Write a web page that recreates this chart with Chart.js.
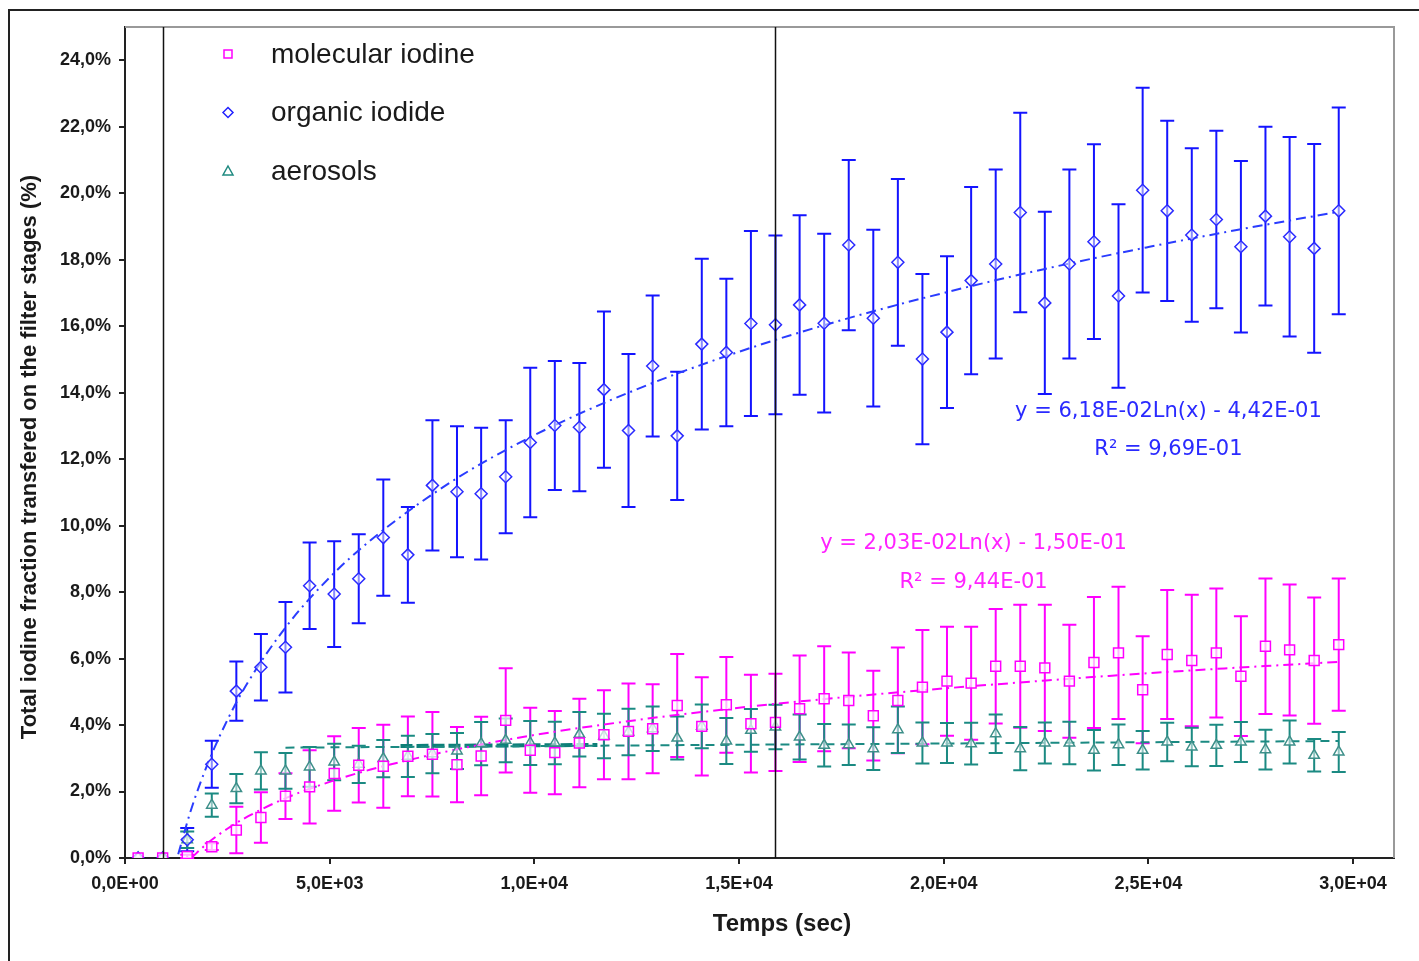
<!DOCTYPE html>
<html>
<head>
<meta charset="utf-8">
<script src="https://cdn.jsdelivr.net/npm/chart.js@4.4.1/dist/chart.umd.min.js"></script>
<style>
  body { margin: 0; background: #fff; }
  #wrap { width: 1419px; height: 961px; position: relative; }
</style>
</head>
<body>
<div id="wrap"><canvas id="iodeChart"></canvas></div>
<script>
// sampling times (s)
const times = [320, 920, 1520, 2120, 2720, 3320, 3920, 4510, 5110, 5710, 6310, 6910, 7510, 8110, 8700, 9300, 9900, 10500, 11100, 11700,
  12300, 12890, 13490, 14090, 14690, 15290, 15890, 16480, 17080, 17680, 18280, 18880, 19480, 20080, 20670, 21270, 21870, 22470, 23070, 23670,
  24270, 24860, 25460, 26060, 26660, 27260, 27860, 28450, 29050, 29650];

// values in %
const molecular = [0, 0, 0.05, 0.34, 0.84, 1.22, 1.86, 2.14, 2.54, 2.79, 2.76, 3.06, 3.12, 2.81, 3.07, 4.14, 3.24, 3.17, 3.46, 3.71,
  3.81, 3.89, 4.59, 3.96, 4.61, 4.04, 4.08, 4.49, 4.79, 4.74, 4.28, 4.74, 5.14, 5.32, 5.26, 5.77, 5.77, 5.72, 5.32, 5.88,
  6.17, 5.06, 6.12, 5.94, 6.17, 5.47, 6.37, 6.26, 5.94, 6.42];
const molecularErr = [0, 0, 0.05, 0.1, 0.70, 0.76, 0.69, 1.10, 1.12, 1.12, 1.25, 1.20, 1.27, 1.13, 1.18, 1.57, 1.28, 1.25, 1.33, 1.34,
  1.44, 1.34, 1.55, 1.48, 1.44, 1.47, 1.46, 1.60, 1.58, 1.44, 1.35, 1.59, 1.72, 1.64, 1.70, 1.72, 1.85, 1.90, 1.70, 1.97,
  1.99, 1.61, 1.94, 1.98, 1.94, 1.80, 2.04, 1.97, 1.90, 1.99];

const organic = [0, 0, 0.55, 2.82, 5.02, 5.74, 6.34, 8.19, 7.94, 8.40, 9.64, 9.12, 11.21, 11.02, 10.96, 11.47, 12.50, 13.01, 12.96, 14.09,
  12.86, 14.80, 12.70, 15.46, 15.21, 16.08, 16.04, 16.64, 16.09, 18.44, 16.24, 17.92, 15.01, 15.82, 17.37, 17.87, 19.42, 16.70, 17.87, 18.54,
  16.91, 20.09, 19.47, 18.74, 19.21, 18.39, 19.31, 18.69, 18.34, 19.47];
const organicErr = [0, 0, 0.35, 0.71, 0.89, 1.00, 1.36, 1.30, 1.59, 1.34, 1.75, 1.44, 1.96, 1.97, 1.98, 1.70, 2.25, 1.94, 1.93, 2.35,
  2.30, 2.12, 1.93, 2.57, 2.22, 2.78, 2.69, 2.70, 2.69, 2.56, 2.66, 2.51, 2.56, 2.28, 2.82, 2.84, 3.00, 2.74, 2.84, 2.93,
  2.76, 3.08, 2.71, 2.61, 2.67, 2.58, 2.69, 3.00, 3.14, 3.11];

const aerosol = [0, 0, 0.55, 1.59, 2.09, 2.62, 2.62, 2.74, 2.89, 2.82, 2.99, 3.06, 3.14, 3.22, 3.44, 3.54, 3.46, 3.46, 3.72, 3.67,
  3.79, 3.89, 3.61, 3.96, 3.52, 3.84, 3.94, 3.64, 3.39, 3.41, 3.29, 3.86, 3.46, 3.46, 3.44, 3.74, 3.29, 3.46, 3.46, 3.24,
  3.41, 3.24, 3.49, 3.34, 3.39, 3.49, 3.26, 3.49, 3.09, 3.19];
const aerosolErr = [0, 0, 0.25, 0.35, 0.44, 0.56, 0.54, 0.60, 0.55, 0.56, 0.56, 0.62, 0.59, 0.54, 0.65, 0.66, 0.66, 0.64, 0.67, 0.67,
  0.70, 0.67, 0.65, 0.66, 0.69, 0.64, 0.67, 0.68, 0.64, 0.61, 0.64, 0.70, 0.62, 0.60, 0.63, 0.58, 0.65, 0.62, 0.64, 0.61,
  0.61, 0.58, 0.58, 0.58, 0.62, 0.60, 0.60, 0.65, 0.49, 0.60];

// trend curves
const organicTrendX = [1300, 1600, 2000, 2500, 3000, 4000, 5000, 6000, 8000, 10000, 12500, 15000, 17500, 20000, 22500, 25000, 27500, 29650];
const organicTrendY = [0.11, 1.40, 2.77, 4.15, 5.28, 7.06, 8.44, 9.56, 11.34, 12.72, 14.10, 15.23, 16.18, 17.00, 17.73, 18.38, 18.97, 19.44];
const molecularTrendX = [1620, 2000, 2500, 3000, 4000, 5000, 6000, 8000, 10000, 12500, 15000, 17500, 20000, 22500, 25000, 27500, 29650];
const molecularTrendY = [0.00, 0.43, 0.88, 1.25, 1.84, 2.29, 2.66, 3.24, 3.70, 4.15, 4.52, 4.83, 5.10, 5.34, 5.56, 5.75, 5.90];
const aerosolTrendX = [3920, 29650];
const aerosolTrendY = [3.32, 3.52];
const aerosolBoldX = [6730, 11540];
const aerosolBoldY = [3.37, 3.40];

const markerLines = [925, 15870];
const xTicks = [0, 5000, 10000, 15000, 20000, 25000, 30000];
const yTicks = [0, 2, 4, 6, 8, 10, 12, 14, 16, 18, 20, 22, 24];

const legendItems = [
  { text: 'molecular iodine', color: '#ff00ff', shape: 'square' },
  { text: 'organic iodide', color: '#2222ff', shape: 'diamond' },
  { text: 'aerosols', color: '#1f8a80', shape: 'triangle' }
];

const BLUE = '#1414ff', PINK = '#ff00ff', TEAL = '#1b8a82';
const SANS = '"Liberation Sans", Arial, sans-serif';

const pts = (xs, ys) => xs.map((x, i) => ({ x: x, y: ys[i] }));

function fmtSci(v) {
  if (v === 0) return '0,0E+00';
  const e = Math.floor(Math.log10(v));
  const m = v / Math.pow(10, e);
  return m.toFixed(1).replace('.', ',') + 'E+' + String(e).padStart(2, '0');
}

const errorBars = {
  id: 'errorBars',
  beforeDatasetsDraw(chart) {
    const ctx = chart.ctx, xs = chart.scales.x, ys = chart.scales.y;
    chart.data.datasets.forEach(ds => {
      if (!ds.err) return;
      ctx.save();
      ctx.strokeStyle = ds.barColor;
      ctx.lineWidth = 2;
      ds.data.forEach((p, i) => {
        const e = ds.err[i];
        if (!e) return;
        const px = xs.getPixelForValue(p.x);
        const top = ys.getPixelForValue(p.y + e), bot = ys.getPixelForValue(p.y - e);
        ctx.beginPath();
        ctx.moveTo(px, top); ctx.lineTo(px, bot);
        ctx.moveTo(px - 7, top); ctx.lineTo(px + 7, top);
        ctx.moveTo(px - 7, bot); ctx.lineTo(px + 7, bot);
        ctx.stroke();
      });
      ctx.restore();
    });
  }
};

const decorations = {
  id: 'decorations',
  beforeDraw(chart) {
    const ctx = chart.ctx;
    ctx.save();
    ctx.fillStyle = '#fff';
    ctx.fillRect(0, 0, chart.width, chart.height);
    ctx.restore();
  },
  afterDraw(chart) {
    const ctx = chart.ctx, a = chart.chartArea, xs = chart.scales.x, ys = chart.scales.y;
    ctx.save();
    // outer frame
    ctx.strokeStyle = '#222';
    ctx.lineWidth = 2;
    ctx.beginPath();
    ctx.moveTo(9, chart.height); ctx.lineTo(9, 10); ctx.lineTo(chart.width, 10);
    ctx.stroke();
    // plot border top / right
    ctx.strokeStyle = '#999';
    ctx.beginPath();
    ctx.moveTo(a.left, a.top); ctx.lineTo(a.right, a.top); ctx.lineTo(a.right, a.bottom);
    ctx.stroke();
    // vertical marker lines
    ctx.strokeStyle = '#111';
    ctx.lineWidth = 1.5;
    markerLines.forEach(v => {
      const px = Math.round(xs.getPixelForValue(v)) + 0.5;
      ctx.beginPath(); ctx.moveTo(px, a.top); ctx.lineTo(px, a.bottom); ctx.stroke();
    });
    // axis titles
    ctx.fillStyle = '#1a1a1a';
    ctx.font = 'bold 24px ' + SANS;
    ctx.textAlign = 'center';
    ctx.textBaseline = 'middle';
    ctx.fillText('Temps (sec)', 782, 924);
    ctx.save();
    ctx.translate(30, 457);
    ctx.rotate(-Math.PI / 2);
    ctx.font = 'bold 22px ' + SANS;
    ctx.fillText('Total iodine fraction transfered on the filter stages (%)', 0, 0);
    ctx.restore();
    // legend
    ctx.textAlign = 'left';
    ctx.font = '28px ' + SANS;
    legendItems.forEach((it, i) => {
      const mx = 228, my = 54 + i * 58.5;
      ctx.strokeStyle = it.color;
      ctx.lineWidth = 1.5;
      ctx.beginPath();
      if (it.shape === 'square') ctx.rect(mx - 4, my - 4, 8, 8);
      else if (it.shape === 'diamond') { ctx.moveTo(mx, my - 5); ctx.lineTo(mx + 5, my); ctx.lineTo(mx, my + 5); ctx.lineTo(mx - 5, my); ctx.closePath(); }
      else { ctx.moveTo(mx, my - 5); ctx.lineTo(mx + 5, my + 4); ctx.lineTo(mx - 5, my + 4); ctx.closePath(); }
      ctx.stroke();
      ctx.fillStyle = '#1a1a1a';
      ctx.fillText(it.text, 271, my + 1);
    });
    // trend equations
    ctx.font = '21px "DejaVu Sans", Verdana, sans-serif';
    ctx.textAlign = 'center';
    ctx.fillStyle = '#2a2aff';
    ctx.fillText('y = 6,18E-02Ln(x) - 4,42E-01', xs.getPixelForValue(25490), ys.getPixelForValue(13.44));
    ctx.fillText('R² = 9,69E-01', xs.getPixelForValue(25490), ys.getPixelForValue(12.30));
    ctx.fillStyle = '#ff22ff';
    ctx.fillText('y = 2,03E-02Ln(x) - 1,50E-01', xs.getPixelForValue(20730), ys.getPixelForValue(9.45));
    ctx.fillText('R² = 9,44E-01', xs.getPixelForValue(20730), ys.getPixelForValue(8.28));
    ctx.restore();
  }
};

const ctx = document.getElementById('iodeChart').getContext('2d');
new Chart(ctx, {
  type: 'scatter',
  data: {
    datasets: [
      {
        label: 'molecular iodine',
        data: pts(times, molecular), err: molecularErr, barColor: PINK,
        pointStyle: 'rect', pointRadius: 7, borderColor: PINK, borderWidth: 1.5,
        backgroundColor: 'rgba(255,255,255,0.7)', order: 1
      },
      {
        label: 'organic iodide',
        data: pts(times, organic), err: organicErr, barColor: BLUE,
        pointStyle: 'rectRot', pointRadius: 6, borderColor: '#2a2aff', borderWidth: 1.5,
        backgroundColor: 'rgba(255,255,255,0.5)', order: 1
      },
      {
        label: 'aerosols',
        data: pts(times, aerosol), err: aerosolErr, barColor: TEAL,
        pointStyle: 'triangle', pointRadius: 6, borderColor: '#3d8f89', borderWidth: 1.5,
        backgroundColor: 'rgba(255,255,255,0.5)', order: 1
      },
      {
        data: pts(organicTrendX, organicTrendY), showLine: true, pointRadius: 0,
        borderColor: '#2a3cff', borderWidth: 2, borderDash: [10, 5, 2, 5], cubicInterpolationMode: 'monotone', order: 2
      },
      {
        data: pts(molecularTrendX, molecularTrendY), showLine: true, pointRadius: 0,
        borderColor: PINK, borderWidth: 2, borderDash: [10, 5, 2, 5], cubicInterpolationMode: 'monotone', order: 2
      },
      {
        data: pts(aerosolTrendX, aerosolTrendY), showLine: true, pointRadius: 0,
        borderColor: TEAL, borderWidth: 2, borderDash: [9, 6], order: 2
      },
      {
        data: pts(aerosolBoldX, aerosolBoldY), showLine: true, pointRadius: 0,
        borderColor: '#0d7f78', borderWidth: 4, borderDash: [12, 4], order: 2
      }
    ]
  },
  options: {
    responsive: true,
    maintainAspectRatio: false,
    animation: false,
    layout: { padding: { top: 27, right: 25, left: 0, bottom: 0 } },
    plugins: {
      legend: { display: false },
      tooltip: { enabled: false }
    },
    scales: {
      x: {
        type: 'linear', min: 0, max: 31000,
        afterBuildTicks: s => { s.ticks = xTicks.map(v => ({ value: v })); },
        afterFit: s => { s.height = 103; },
        grid: { drawOnChartArea: false, drawTicks: true, tickLength: 6, color: '#222', lineWidth: 2 },
        border: { display: true, color: '#222', width: 2 },
        ticks: {
          color: '#1a1a1a', padding: 9, maxRotation: 0,
          font: { family: SANS, size: 18, weight: 'bold' },
          callback: v => fmtSci(v)
        },
        title: { display: false }
      },
      y: {
        min: 0, max: 25,
        afterBuildTicks: s => { s.ticks = yTicks.map(v => ({ value: v })); },
        afterFit: s => { s.width = 125; },
        grid: { drawOnChartArea: false, drawTicks: true, tickLength: 6, color: '#222', lineWidth: 2 },
        border: { display: true, color: '#222', width: 2 },
        ticks: {
          color: '#1a1a1a', padding: 8,
          font: { family: SANS, size: 18, weight: 'bold' },
          callback: v => v.toFixed(1).replace('.', ',') + '%'
        },
        title: { display: false }
      }
    }
  },
  plugins: [errorBars, decorations]
});
</script>
</body>
</html>
